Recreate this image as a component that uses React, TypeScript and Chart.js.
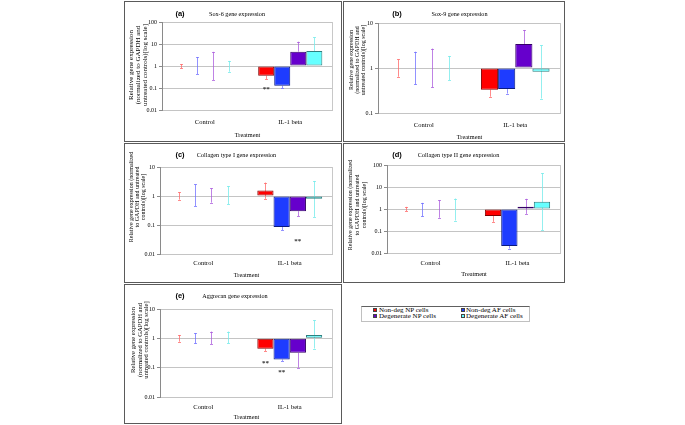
import React, { useEffect, useRef } from "react";
import { Chart, registerables } from "chart.js";

Chart.register(...registerables);

const SERIF = '"Liberation Serif", "Times New Roman", serif';
const SANS = '"Liberation Sans", Arial, sans-serif';

const categories = ["Control", "IL-1 beta"];
const seriesNames = ["Non-deg NP cells", "Non-deg AF cells", "Degenerate NP cells", "Degenerate AF cells"];
const seriesFill = ["#ff0000", "#1e3cff", "#6600cc", "#66ffff"];
const seriesEdge = ["#800000", "#0a1a80", "#330066", "#2f7f7f"];
const errorColor = ["rgba(255,110,110,0.8)", "rgba(110,110,255,0.75)", "rgba(170,90,220,0.75)", "rgba(120,235,235,0.8)"];

// (a) Sox-6 — per series: [Control, IL-1 beta]
const sox6Ticks = [0.01, 0.1, 1, 10, 100];
const sox6Values = [[1, 0.36], [1, 0.126], [1, 4.5], [1, 4.8]];
const sox6Low = [[0.78, 0.25], [0.43, 0.1], [0.23, 4.5], [0.55, 4.8]];
const sox6High = [[1.23, 0.36], [2.5, 0.126], [4.4, 12.7], [1.7, 20]];
const sox6Stars = [[0, 0.11]];

// (b) Sox-9
const sox9Ticks = [0.1, 1, 10];
const sox9Values = [[1, 0.33], [1, 0.34], [1, 3.4], [1, 0.83]];
const sox9Low = [[0.64, 0.23], [0.43, 0.27], [0.37, 3.4], [0.54, 0.21]];
const sox9High = [[1.55, 0.33], [2.3, 0.34], [2.7, 7], [1.85, 3.2]];
const sox9Stars: number[][] = [];

// (c) Collagen type I
const col1Ticks = [0.01, 0.1, 1, 10];
const col1Values = [[1, 1.55], [1, 0.085], [1, 0.3], [1, 0.81]];
const col1Low = [[0.75, 0.8], [0.45, 0.067], [0.59, 0.2], [0.52, 0.19]];
const col1High = [[1.35, 2.9], [2.5, 0.085], [1.85, 0.3], [2.2, 3.3]];
const col1Stars = [[2, 0.033]];

// (d) Collagen type II
const col2Ticks = [0.01, 0.1, 1, 10, 100];
const col2Values = [[1, 0.48], [1, 0.021], [1, 1.27], [1, 2.15]];
const col2Low = [[0.8, 0.26], [0.46, 0.016], [0.4, 0.6], [0.3, 0.11]];
const col2High = [[1.25, 0.48], [1.9, 0.021], [2.5, 2.9], [3, 43]];
const col2Stars: number[][] = [];

// (e) Aggrecan
const aggTicks = [0.01, 0.1, 1, 10];
const aggValues = [[1, 0.44], [1, 0.19], [1, 0.32], [1, 1.3]];
const aggLow = [[0.77, 0.37], [0.67, 0.17], [0.64, 0.1], [0.67, 0.45]];
const aggHigh = [[1.3, 0.44], [1.5, 0.19], [1.7, 0.32], [1.7, 4.1]];
const aggStars = [[0, 0.17], [1, 0.08]];

const yTitleShort = ["Relative gene expression", "(normalized to GAPDH and", "untreated controls)[log scale]"];
const yTitleLong = ["Relative gene expression (normalized", "to GAPDH and untreated", "controls)[log scale]"];

type PanelSpec = {
  box: number[];
  area: number[];
  ticks: number[];
  values: number[][];
  low: number[][];
  high: number[][];
  stars: number[][];
  letter: string;
  letterPos: number[];
  title: string;
  titlePos: number[];
  yTitle: string[];
  yTitleX: number[];
  yTitleY: number;
  yTitleSize: number;
  xLabelY: number;
  xTitleY: number;
};

const panels: PanelSpec[] = [
  {
    box: [124, 1, 342, 142], area: [162, 22, 333, 110], ticks: sox6Ticks,
    values: sox6Values, low: sox6Low, high: sox6High, stars: sox6Stars,
    letter: "(a)", letterPos: [180, 14], title: "Sox-6 gene expression", titlePos: [237, 14],
    yTitle: yTitleShort, yTitleX: [131, 138, 145], yTitleY: 65, yTitleSize: 7,
    xLabelY: 122, xTitleY: 135,
  },
  {
    box: [343, 1, 565, 142], area: [378, 23, 561, 113], ticks: sox9Ticks,
    values: sox9Values, low: sox9Low, high: sox9High, stars: sox9Stars,
    letter: "(b)", letterPos: [397, 14], title: "Sox-9 gene expression", titlePos: [459.5, 14],
    yTitle: yTitleShort, yTitleX: [351, 357, 363], yTitleY: 60, yTitleSize: 6,
    xLabelY: 125, xTitleY: 137,
  },
  {
    box: [124, 143, 342, 283], area: [160, 167, 333, 254], ticks: col1Ticks,
    values: col1Values, low: col1Low, high: col1High, stars: col1Stars,
    letter: "(c)", letterPos: [180, 155], title: "Collagen type I gene expression", titlePos: [236.5, 155],
    yTitle: yTitleLong, yTitleX: [131, 137, 143], yTitleY: 197, yTitleSize: 6,
    xLabelY: 263, xTitleY: 275,
  },
  {
    box: [343, 143, 565, 283], area: [387, 165, 561, 253], ticks: col2Ticks,
    values: col2Values, low: col2Low, high: col2High, stars: col2Stars,
    letter: "(d)", letterPos: [397, 155], title: "Collagen type II gene expression", titlePos: [458.5, 155],
    yTitle: yTitleLong, yTitleX: [350, 357, 364], yTitleY: 205, yTitleSize: 6,
    xLabelY: 263, xTitleY: 274,
  },
  {
    box: [124, 284, 342, 424], area: [160, 309, 333, 397], ticks: aggTicks,
    values: aggValues, low: aggLow, high: aggHigh, stars: aggStars,
    letter: "(e)", letterPos: [180, 296], title: "Aggrecan gene expression", titlePos: [235, 296],
    yTitle: yTitleShort, yTitleX: [133.5, 140, 146.5], yTitleY: 340, yTitleSize: 6.6,
    xLabelY: 407, xTitleY: 417,
  },
];

function PanelChart({ spec }: { spec: PanelSpec }) {
  const ref = useRef<HTMLCanvasElement>(null);
  const [l, t, r, b] = spec.box;
  const ox = l + 1;
  const oy = t + 1;
  const cw = r - l - 2;
  const ch = b - t - 2;

  useEffect(() => {
    const canvas = ref.current;
    if (!canvas) return;
    const [al, at, ar, ab] = spec.area;
    const ticks = spec.ticks;
    const xFont = 6.5;

    const framePlugin = {
      id: "frameAndErrors",
      beforeDatasetsDraw(chart: any) {
        const ctx = chart.ctx;
        const area = chart.chartArea;
        ctx.save();
        ctx.strokeStyle = "#c8c8c8";
        ctx.lineWidth = 1;
        ctx.beginPath();
        const rx = Math.round(area.right) - 0.5;
        ctx.moveTo(rx, area.top);
        ctx.lineTo(rx, area.bottom);
        ctx.stroke();
        const ys = chart.scales.y;
        spec.values.forEach((vals, i) => {
          const meta = chart.getDatasetMeta(i);
          meta.data.forEach((bar: any, j: number) => {
            const x = Math.round(bar.x) + 0.5;
            const yl = ys.getPixelForValue(spec.low[i][j]);
            const yh = ys.getPixelForValue(spec.high[i][j]);
            ctx.strokeStyle = errorColor[i];
            ctx.beginPath();
            ctx.moveTo(x, yl);
            ctx.lineTo(x, yh);
            if (spec.low[i][j] !== vals[j]) {
              ctx.moveTo(x - 1.5, Math.round(yl) + 0.5);
              ctx.lineTo(x + 1.5, Math.round(yl) + 0.5);
            }
            if (spec.high[i][j] !== vals[j]) {
              ctx.moveTo(x - 1.5, Math.round(yh) + 0.5);
              ctx.lineTo(x + 1.5, Math.round(yh) + 0.5);
            }
            ctx.stroke();
          });
        });
        ctx.restore();
      },
    };

    const textPlugin = {
      id: "panelTexts",
      afterDraw(chart: any) {
        const ctx = chart.ctx;
        ctx.save();
        ctx.fillStyle = "#000";
        ctx.textAlign = "center";
        ctx.textBaseline = "middle";
        ctx.font = `bold 7.5px ${SANS}`;
        ctx.fillText(spec.letter, spec.letterPos[0] - ox, spec.letterPos[1] - oy);
        ctx.font = `6.2px ${SERIF}`;
        ctx.fillText(spec.title, spec.titlePos[0] - ox, spec.titlePos[1] - oy);
        ctx.font = `${spec.yTitleSize}px ${SERIF}`;
        spec.yTitle.forEach((line, i) => {
          ctx.save();
          ctx.translate(spec.yTitleX[i] - ox, spec.yTitleY - oy);
          ctx.rotate(-Math.PI / 2);
          ctx.fillText(line, 0, 0);
          ctx.restore();
        });
        ctx.font = `6.3px ${SERIF}`;
        ctx.fillText("Treatment", (al + ar) / 2 - ox, spec.xTitleY - oy);
        ctx.fillStyle = "#333";
        ctx.font = `bold 7px ${SERIF}`;
        spec.stars.forEach((s) => {
          const bar: any = chart.getDatasetMeta(s[0]).data[1];
          ctx.fillText("**", bar.x, chart.scales.y.getPixelForValue(s[1]) + 2);
        });
        ctx.restore();
      },
    };

    const chart = new Chart(canvas, {
      type: "bar",
      data: {
        labels: categories,
        datasets: spec.values.map((vals, i) => ({
          label: seriesNames[i],
          data: vals,
          base: 1,
          backgroundColor: seriesFill[i],
          borderColor: seriesEdge[i],
          borderWidth: 1,
          borderSkipped: false,
          inflateAmount: 0,
          categoryPercentage: 0.75,
          barPercentage: 1,
        })) as any,
      },
      options: {
        responsive: false,
        animation: false,
        events: [],
        layout: {
          padding: { left: 0, top: at - oy, right: ox + cw - ar, bottom: 0 },
        },
        plugins: {
          legend: { display: false },
          tooltip: { enabled: false },
          title: { display: false },
        },
        scales: {
          x: {
            type: "category",
            offset: true,
            grid: { display: false, drawTicks: false },
            border: { display: false },
            ticks: {
              color: "#000",
              font: { family: SERIF, size: xFont, lineHeight: 1 },
              padding: spec.xLabelY - ab - xFont / 2,
              maxRotation: 0,
              autoSkip: false,
            },
            afterFit: (s: any) => {
              s.height = oy + ch - ab;
            },
          },
          y: {
            type: "logarithmic",
            min: ticks[0],
            max: ticks[ticks.length - 1],
            afterBuildTicks: (s: any) => {
              s.ticks = ticks.map((v) => ({ value: v }));
            },
            grid: { color: "#c4c4c4", tickLength: 3, tickColor: "#8a8a8a", lineWidth: 1 },
            border: { display: true, color: "#8a8a8a", width: 1 },
            ticks: {
              color: "#000",
              font: { family: SERIF, size: 6 },
              padding: 2,
              callback: (v: any) => String(v),
            },
            afterFit: (s: any) => {
              s.width = al - ox;
            },
          },
        },
      } as any,
      plugins: [framePlugin, textPlugin],
    });
    return () => chart.destroy();
  }, []);

  return (
    <div
      style={{
        position: "absolute",
        left: l,
        top: t,
        width: r - l,
        height: b - t,
        boxSizing: "border-box",
        border: "1px solid #5a5a5a",
        background: "#fff",
      }}
    >
      <canvas ref={ref} width={cw} height={ch} style={{ display: "block", width: cw, height: ch }} />
    </div>
  );
}

function Legend() {
  const items = [
    { x: 373, y: 308, tx: 379 },
    { x: 461, y: 308, tx: 466 },
    { x: 373, y: 314, tx: 379 },
    { x: 461, y: 314, tx: 466 },
  ];
  return (
    <>
      <div
        style={{
          position: "absolute",
          left: 361,
          top: 306,
          width: 169,
          height: 16,
          boxSizing: "border-box",
          border: "1px solid #c0c0c0",
          borderTop: "1px solid #606060",
          background: "#fff",
        }}
      />
      {seriesNames.map((name, i) => (
        <React.Fragment key={name}>
          <div
            style={{
              position: "absolute",
              left: items[i].x,
              top: items[i].y,
              width: 4,
              height: 4,
              background: seriesFill[i],
              border: "0.5px solid #444",
              boxSizing: "border-box",
            }}
          />
          <div
            style={{
              position: "absolute",
              left: items[i].tx,
              top: items[i].y - 2,
              height: 8,
              lineHeight: "8px",
              fontFamily: SERIF,
              fontSize: 7,
              color: "#000",
              whiteSpace: "nowrap",
            }}
          >
            {name}
          </div>
        </React.Fragment>
      ))}
    </>
  );
}

export default function App() {
  return (
    <div style={{ position: "absolute", left: 0, top: 0, width: 685, height: 425, background: "#fff", overflow: "hidden" }}>
      {panels.map((p) => (
        <PanelChart key={p.letter} spec={p} />
      ))}
      <Legend />
    </div>
  );
}
